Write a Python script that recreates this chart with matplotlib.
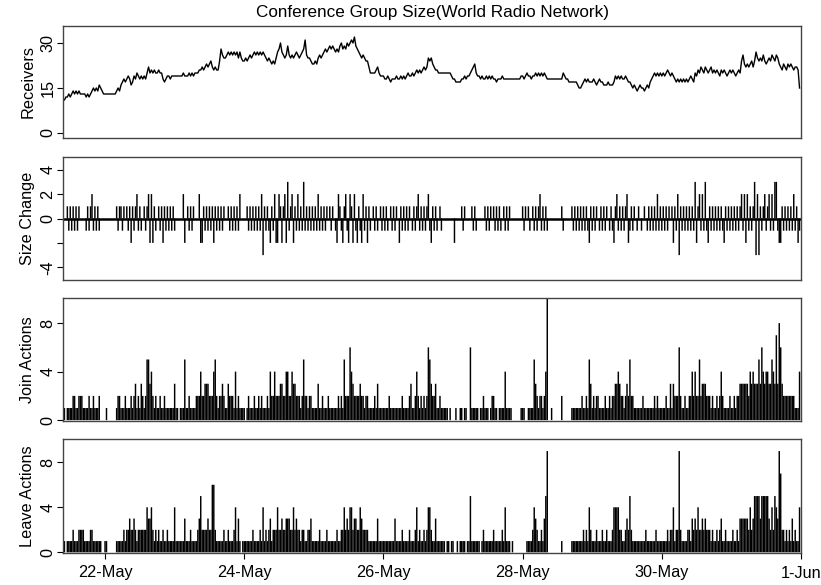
import numpy as np
import pandas as pd
import matplotlib
matplotlib.use("Agg")
import matplotlib.pyplot as plt

plt.rcParams['font.family'] = ['Liberation Sans', 'DejaVu Sans']

# ---- data: 30-minute bins from 21-May 09:30 to 31-May 23:30 ----
start_time = "2007-05-21 09:30"
end_time = "2007-06-01 00:00"

receivers = (
    [11,11,12,12,13,12,13,14,13,14,13,14,13,13,13,13,12,13,12,13,14,15,14,15,14,16,15,14,13]  # 21-May
    + [13,13,13,13,13,13,13,13, 14,15,14,16,17,18,17,18, 19,18,16,17,19,18,20,19, 18,19,18,19,18,20,22,20, 21,20,21,20,20,21,20,20, 18,17,18,19,19,18,19,19]  # 22-May
    + [19,19,19,19,19,19,20,19, 19,19,20,19,20,19,20,20, 20,21,21,22,21,22,23,22, 23,24,22,21,22,21,21,24, 28,26,25,25,26,27,26,27, 26,27,26,27,25,27,25,24]  # 23-May
    + [24,25,24,25,26,25,26,27, 26,27,26,27,26,27,26,25, 24,25,24,23,24,23,25,27, 28,30,27,26,25,26,29,26, 25,26,25,26,27,26,25,26, 27,28,31,26,25,25,24,23]  # 24-May
    + [23,24,23,25,26,25,26,27, 28,27,28,29,28,29,28,27, 28,27,29,30,28,29,28,30, 29,30,31,30,32,29,28,27, 26,25,26,25,24,24,22,20, 20,20,20,21,22,20,19,19]  # 25-May
    + [19,18,18,19,18,17,18,18, 18,19,18,18,19,18,19,18, 19,20,19,19,20,19,20,21, 20,21,20,21,22,21,22,25, 24,25,23,22,21,21,20,20, 20,20,20,20,20,20,20,19]  # 26-May
    + [18,18,17,17,17,17,18,18, 19,18,19,19,20,21,22,23, 20,19,19,18,19,18,18,19, 18,19,18,19,18,18,17,18, 18,18,19,18,18,18,18,18, 18,18,18,18,18,18,18,19]  # 27-May
    + [19,18,19,20,19,19,18,19, 19,20,19,20,19,20,19,20, 19,18,18,18,18,18,18,18, 18,18,18,18,20,19,18,18, 17,17,17,17,17,17,16,15, 15,16,17,18,17,18,17,17]  # 28-May
    + [17,18,17,16,17,18,17,17, 16,16,16,17,16,16,16,17, 19,18,19,18,19,18,18,19, 18,17,17,16,15,16,15,14, 15,16,15,15,14,15,16,15, 17,18,19,20,19,20,19,20]  # 29-May
    + [19,20,19,20,21,20,19,20, 19,18,17,18,17,18,17,18, 17,18,17,18,19,18,17,20, 19,21,20,22,21,20,22,21, 20,21,22,20,21,20,21,20, 19,21,20,21,20,19,20,21]  # 30-May
    + [20,21,20,19,20,21,20,24, 26,23,22,23,22,23,24,22, 24,27,25,24,25,24,26,24, 23,24,25,24,26,25,24,26, 25,23,22,21,23,22,21,23, 22,23,22,21,22,22,21,15]  # 31-May
)

size_change = (
    [0,0,0,1,-1,1,-1,1,-1,1,-1,1,0,0,0,0,-1,1,-1,1,2,-1,1,-1,1,-1,0,0,0]
    + [0,0,0,0,0,0,0,0, 1,-1,1,1,-1,1,0,1, -1,1,-2,1,-1,1,2,-1, 1,-1,0,1,-1,1,2,-2, 2,-2,1,-1,0,1,-1,1, -2,1,-1,1,-1,1,-1,1]
    + [-1,0,0,0,0,0,2,-2, 0,1,-1,1,-1,1,0,0, 0,2,-2,-2,1,-1,1,-1, 1,-1,1,-2,1,-1,1,-1, 1,-1,1,0,0,1,-1,1, -1,1,-1,1,-1,2,0,0]
    + [0,0,1,-1,1,-1,1,-1, 1,-1,1,-1,2,-3,1,-1, 1,-1,-2,1,-1,2,-2,-2, 2,1,-2,1,2,-2,3,-1, 1,2,-2,1,-1,2,-1,1, -1,3,-1,1,-1,1,-1,1]
    + [-1,1,-1,2,-1,1,-1,1, -1,1,0,1,-1,1,0,-1, -2,2,1,-1,-2,1,2,-1, -2,2,1,-2,2,-1,-2,1, -1,-2,2,-1,1,-2,1,-1, 0,1,-1,1,-1,0,1,-1]
    + [1,-1,1,-1,0,1,-1,1, -1,1,0,-2,1,-1,1,-1, 1,-1,1,0,-1,1,-1,1, 2,-1,1,-1,1,-1,1,2, -1,-2,1,-1,1,-1,0,1, -1,0,0,0,0,0,0,0]
    + [0,-2,0,0,0,0,1,-1, 1,0,0,0,0,1,-1,1, -1,0,0,0,0,0,1,-1, 1,-1,1,0,1,-1,1,-1, 1,-1,0,1,-1,1,-1,1, 0,0,0,0,0,0,0,0]
    + [1,-1,1,0,1,-1,0,1, -1,1,-1,1,2,-1,1,-1, 1,-1,0,0,0,0,0,0, 0,0,0,1,-1,0,0,0, 0,0,1,-1,1,-1,1,-1, 1,-1,1,-1,1,-1,-2,1]
    + [-1,1,-1,1,0,-1,1,-1, 1,-1,1,0,-1,1,-1,-2, 1,2,-1,1,-1,1,-1,1, 2,-2,-1,1,-1,1,0,-1, 1,0,-1,0,1,0,-1,1, -1,1,-1,1,-1,2,-1,1]
    + [-1,1,-1,1,-1,1,0,1, -2,1,-1,2,-3,1,-1,1, -1,1,-1,1,-1,1,-1,3, -2,1,2,-1,2,-1,3,-1, -2,1,-1,1,-1,1,-1,1, -1,1,-1,-2,1,-1,1,-1]
    + [1,-1,1,-1,1,-1,1,2, -1,2,-2,2,-1,1,-1,1, 3,-3,2,-3,1,-1,1,2, -1,1,2,-1,2,-1,3,3, -1,-2,-2,1,-1,1,-1,1, -1,1,-1,2,-1,1,-2,-1]
)

join_actions = (
    [0,1,0,1,1,1,1,2,2,1,1,2,2,2,1,1,1,1,2,1,1,2,1,1,1,2,0,0,0]
    + [0,1,0,0,0,0,0,0, 1,2,2,1,1,1,2,1, 1,1,2,1,2,3,1,2, 1,3,2,1,2,5,5,3, 4,2,1,2,1,1,2,1, 1,2,1,1,1,1,1,1]
    + [3,1,1,0,1,1,1,5, 1,1,2,1,1,1,1,2, 2,2,4,2,2,3,3,3, 2,2,2,4,5,2,1,2, 2,3,2,1,1,3,2,2, 2,1,4,1,2,1,1,1]
    + [1,0,1,2,1,1,1,2, 1,1,2,1,2,1,1,1, 2,1,4,2,2,4,2,2, 2,3,3,2,2,4,4,2, 2,4,3,3,2,2,2,1, 2,5,2,2,1,2,2,1]
    + [1,1,1,3,1,1,2,1, 1,1,2,1,1,1,1,1, 1,2,1,2,1,5,2,2, 2,6,4,3,2,2,2,2, 3,2,2,1,2,2,1,1, 1,1,2,1,3,1,1,1]
    + [1,1,1,1,2,1,1,1, 1,1,1,1,1,2,1,1, 1,1,2,3,1,1,2,4, 2,1,2,1,2,1,2,6, 5,3,2,2,3,1,1,2, 1,1,1,1,1,0,1,0]
    + [0,0,1,0,0,1,1,0, 1,1,0,0,6,1,1,1, 1,1,0,1,1,2,1,1, 1,0,1,2,2,1,1,0, 1,1,1,1,4,1,1,1, 1,0,0,0,0,0,0,1]
    + [1,1,0,0,1,1,1,1, 5,3,2,1,2,2,1,2, 4,10,0,0,1,0,0,0, 0,0,0,2,0,0,0,0, 0,0,1,1,1,1,1,1, 1,2,1,1,2,1,5,3]
    + [1,2,1,2,2,1,1,1, 1,2,1,1,2,1,2,2, 3,3,4,3,2,2,1,2, 3,2,5,2,2,1,1,1, 1,1,1,2,1,1,1,1, 1,1,1,2,1,2,1,1]
    + [1,1,1,2,1,1,3,1, 3,2,2,2,6,2,1,1, 2,1,1,2,2,4,2,4, 2,2,5,2,3,3,3,2, 2,2,1,2,1,1,2,1, 2,4,2,1,1,1,1,2]
    + [1,1,2,1,2,2,3,3, 3,3,3,3,2,4,3,4, 3,3,3,5,3,6,4,3, 4,4,3,3,5,4,3,7, 3,8,6,3,2,2,2,2, 2,2,2,2,1,1,1,4]
)

leave_actions = (
    [0,1,0,1,1,1,1,2,1,1,1,2,2,2,2,1,1,1,1,2,2,1,1,1,1,1,1,0,0]
    + [1,1,0,0,0,0,0,0, 1,1,1,1,1,2,1,2, 2,3,2,2,3,2,1,2, 2,2,2,2,2,4,3,3, 4,2,1,2,1,2,1,1, 2,1,1,2,1,1,1,1]
    + [4,1,1,1,1,1,1,3, 1,1,1,2,1,1,1,1, 2,3,5,2,2,2,2,3, 2,2,6,6,2,1,1,1, 1,1,2,1,1,2,1,1, 1,2,4,1,3,1,0,1]
    + [1,1,1,1,1,1,2,1, 1,1,1,2,1,4,1,2, 1,2,3,1,2,2,2,4, 2,2,3,2,2,3,3,3, 2,2,4,2,3,2,2,1, 2,2,1,1,2,2,3,1]
    + [1,1,1,1,2,1,1,1, 1,2,1,1,1,1,1,1, 2,1,1,2,2,4,2,3, 2,4,4,2,3,3,2,2, 4,3,2,2,2,2,1,1, 1,1,1,1,3,1,1,1]
    + [1,1,1,1,1,1,1,1, 3,1,1,1,1,2,1,1, 1,1,2,1,1,1,2,4, 1,2,1,1,2,1,2,4, 4,2,1,1,3,1,1,1, 1,1,1,0,1,1,0,1]
    + [1,0,0,1,0,1,1,1, 1,0,1,1,5,1,1,1, 1,1,1,0,1,2,1,1, 1,1,1,1,2,1,1,1, 1,1,2,1,4,1,1,1, 0,1,0,0,0,0,0,0]
    + [0,0,0,1,1,1,1,2, 4,3,2,1,1,2,1,3, 5,9,0,0,0,0,0,0, 0,0,0,1,0,0,0,0, 0,0,1,1,1,1,1,1, 1,1,2,1,2,1,4,2]
    + [1,1,1,2,1,1,1,2, 1,1,2,1,1,1,2,4, 4,4,4,2,2,1,1,2, 3,2,5,2,1,1,1,1, 1,1,1,1,1,2,1,1, 1,1,1,1,2,1,1,1]
    + [1,1,1,1,2,1,2,2, 4,1,2,2,9,2,1,1, 1,1,2,2,1,3,2,3, 2,4,2,2,3,2,3,2, 2,2,1,2,1,1,2,1, 2,3,1,1,2,1,1,1]
    + [1,2,1,1,2,1,3,3, 3,3,3,3,2,4,2,3, 5,5,5,5,3,5,5,5, 5,5,3,2,4,2,5,4, 3,9,7,2,2,1,2,1, 2,1,3,1,2,1,1,4]
)

x_tick_dates = ["2007-05-22", "2007-05-24", "2007-05-26", "2007-05-28", "2007-05-30", "2007-06-01"]
x_tick_labels = ["22-May", "24-May", "26-May", "28-May", "30-May", "1-Jun"]

times = pd.date_range(start_time, periods=len(receivers), freq="30min")

# ---- figure ----
W, H = 821, 585
fig = plt.figure(figsize=(W / 100, H / 100), dpi=100)

def add_panel(top, bottom):
    left, right = 63, 801
    return fig.add_axes([left / W, 1 - bottom / H, (right - left) / W, (bottom - top) / H])

ax1 = add_panel(26, 138)
ax2 = add_panel(157, 280)
ax3 = add_panel(298, 421)
ax4 = add_panel(439, 553)

FS = 11.7
BAR_LW = 1.05
xmin, xmax = pd.Timestamp(start_time), pd.Timestamp(end_time)

ax1.plot(times, receivers, color="black", lw=1.0)
ax1.set_ylim(-1.67, 35.67)
ax1.set_yticks([0, 15, 30])

ax2.vlines(times, 0, size_change, color="black", lw=BAR_LW, snap=False)
ax2.axhline(0, color="black", lw=1.8)
ax2.set_ylim(-5.04, 5.04)
ax2.set_yticks([-4, -2, 0, 2, 4])
ax2.set_yticklabels(["-4", "", "0", "2", "4"])

ax3.vlines(times, 0, join_actions, color="black", lw=BAR_LW, snap=False)
ax3.set_ylim(-0.07, 10.07)
ax3.set_yticks([0, 4, 8])

ax4.vlines(times, 0, leave_actions, color="black", lw=BAR_LW, snap=False)
ax4.set_ylim(-0.06, 10.07)
ax4.set_yticks([0, 4, 8])

labels = ["Receivers", "Size Change", "Join Actions", "Leave Actions"]
for ax, lab in zip([ax1, ax2, ax3, ax4], labels):
    ax.set_xlim(xmin, xmax)
    for sp in ax.spines.values():
        sp.set_color("#444444")
        sp.set_linewidth(1.0)
    ax.tick_params(axis="y", direction="out", length=4, width=0.8, pad=1.5,
                   labelsize=FS, colors="black")
    for t in ax.get_yticklabels():
        t.set_rotation(90)
        t.set_va("center")
    ax.set_ylabel(lab, fontsize=FS, va="center")
    ax.yaxis.set_label_coords(-(63 - 28) / (801 - 63), 0.5)
    if ax is not ax4:
        ax.set_xticks([])

ax4.set_xticks([pd.Timestamp(d) for d in x_tick_dates])
ax4.set_xticklabels(x_tick_labels)
ax4.tick_params(axis="x", direction="out", length=4, width=0.8, pad=5, labelsize=FS)

fig.text(432 / W, 1 - 13 / H, "Conference Group Size(World Radio Network)",
         ha="center", va="center", fontsize=12.3)

fig.savefig("out.png", dpi=100)
